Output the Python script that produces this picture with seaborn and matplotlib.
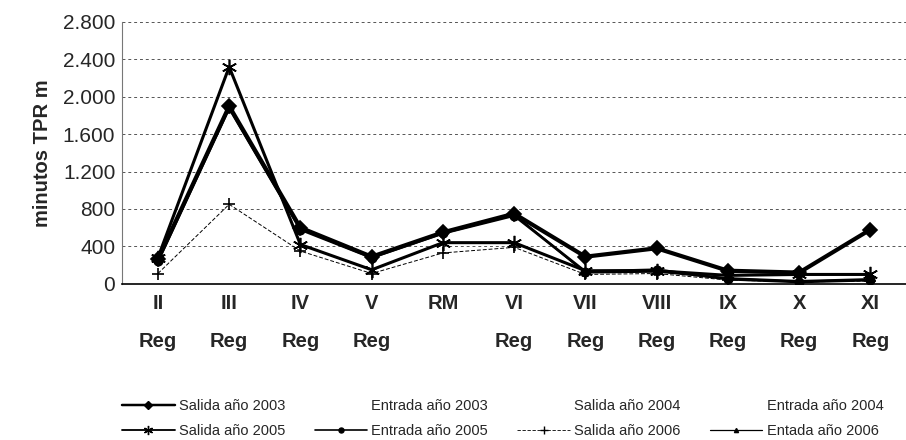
import matplotlib
matplotlib.use("Agg")
import matplotlib.pyplot as plt
import seaborn as sns
import numpy as np
import pandas as pd
from matplotlib.lines import Line2D
from matplotlib.ticker import FuncFormatter, MultipleLocator

# Data (minutos TPR m per region)
regions = ["II\nReg", "III\nReg", "IV\nReg", "V\nReg", "RM\n", "VI\nReg",
           "VII\nReg", "VIII\nReg", "IX\nReg", "X\nReg", "XI\nReg"]
salida_2003 = [260, 1900, 600, 290, 550, 750, 290, 380, 140, 120, 580]
salida_2005 = [280, 2320, 420, 150, 440, 440, 140, 140, 90, 100, 100]
entrada_2005 = [240, 1880, 580, 280, 540, 730, 130, 150, 50, 20, 40]
salida_2006 = [110, 850, 350, 110, 330, 390, 100, 110, 40, 20, 30]
entrada_2006 = [250, 1890, 590, 290, 550, 740, 120, 130, 60, 30, 50]
y_ticks = [0, 400, 800, 1200, 1600, 2000, 2400, 2800]

sns.set_style("white")
plt.rcParams['font.family'] = ['Liberation Sans', 'DejaVu Sans']

fig = plt.figure(figsize=(9.06, 4.4), dpi=100)
ax = fig.add_axes([0.135, 0.355, 0.865, 0.595])

x = np.arange(len(regions))
series = [
    ("Salida año 2003", salida_2003, "D", 3.0, 7, "-"),
    ("Salida año 2005", salida_2005, (6, 2, 0), 2.2, 11, "-"),
    ("Entrada año 2005", entrada_2005, "o", 2.0, 6, "-"),
    ("Salida año 2006", salida_2006, "+", 0.7, 9, (0, (4, 2))),
    ("Entada año 2006", entrada_2006, "^", 1.5, 5, "-"),
]
handles = {}
for name, vals, mk, lw, ms, ls in series:
    sns.lineplot(x=x, y=vals, ax=ax, color="black", marker=mk, markersize=ms,
                 linewidth=lw, linestyle=ls, markeredgecolor="black",
                 markeredgewidth=1.2, legend=False)
    handles[name] = Line2D([], [], color="black", marker=mk, markersize=ms * 0.6,
                           linewidth=max(lw * 0.6, 0.6), linestyle=ls)

blank = Line2D([], [], color="none")
handles["Entrada año 2003"] = blank
handles["Salida año 2004"] = blank
handles["Entrada año 2004"] = blank

ax.set_xlim(-0.5, len(regions) - 0.5)
ax.set_ylim(0, 2800)
ax.set_yticks(y_ticks)
ax.yaxis.set_major_formatter(FuncFormatter(lambda v, p: f"{v:,.0f}".replace(",", ".")))
ax.set_xticks(x)
ax.set_xticklabels(regions, fontsize=14.5, fontweight="bold", linespacing=2.3)
ax.xaxis.set_minor_locator(MultipleLocator(1, offset=0.5))
ax.tick_params(axis="x", which="major", length=0, pad=7)
ax.tick_params(axis="x", which="minor", length=4, color="black", width=0.8)
ax.tick_params(axis="y", labelsize=15, length=0, pad=5)
ax.grid(axis="y", color="#555555", linestyle=(0, (3, 3)), linewidth=0.7)
ax.set_axisbelow(True)
for s in ["top", "right"]:
    ax.spines[s].set_visible(False)
ax.spines["bottom"].set_color("black")
ax.spines["bottom"].set_linewidth(1.2)
ax.spines["left"].set_color("#777777")
ax.spines["left"].set_linewidth(0.8)
ax.set_ylabel("minutos TPR m", fontsize=14.5, fontweight="bold", labelpad=8)

# legend fills column by column
order = ["Salida año 2003", "Salida año 2005", "Entrada año 2003", "Entrada año 2005",
         "Salida año 2004", "Salida año 2006", "Entrada año 2004", "Entada año 2006"]
fig.legend([handles[k] for k in order], order, loc="lower center", ncol=4,
           bbox_to_anchor=(0.555, -0.025), frameon=False, fontsize=10.5,
           handlelength=3.6, columnspacing=2.0, handletextpad=0.3, labelspacing=0.75)

fig.savefig("out.png", dpi=100)
